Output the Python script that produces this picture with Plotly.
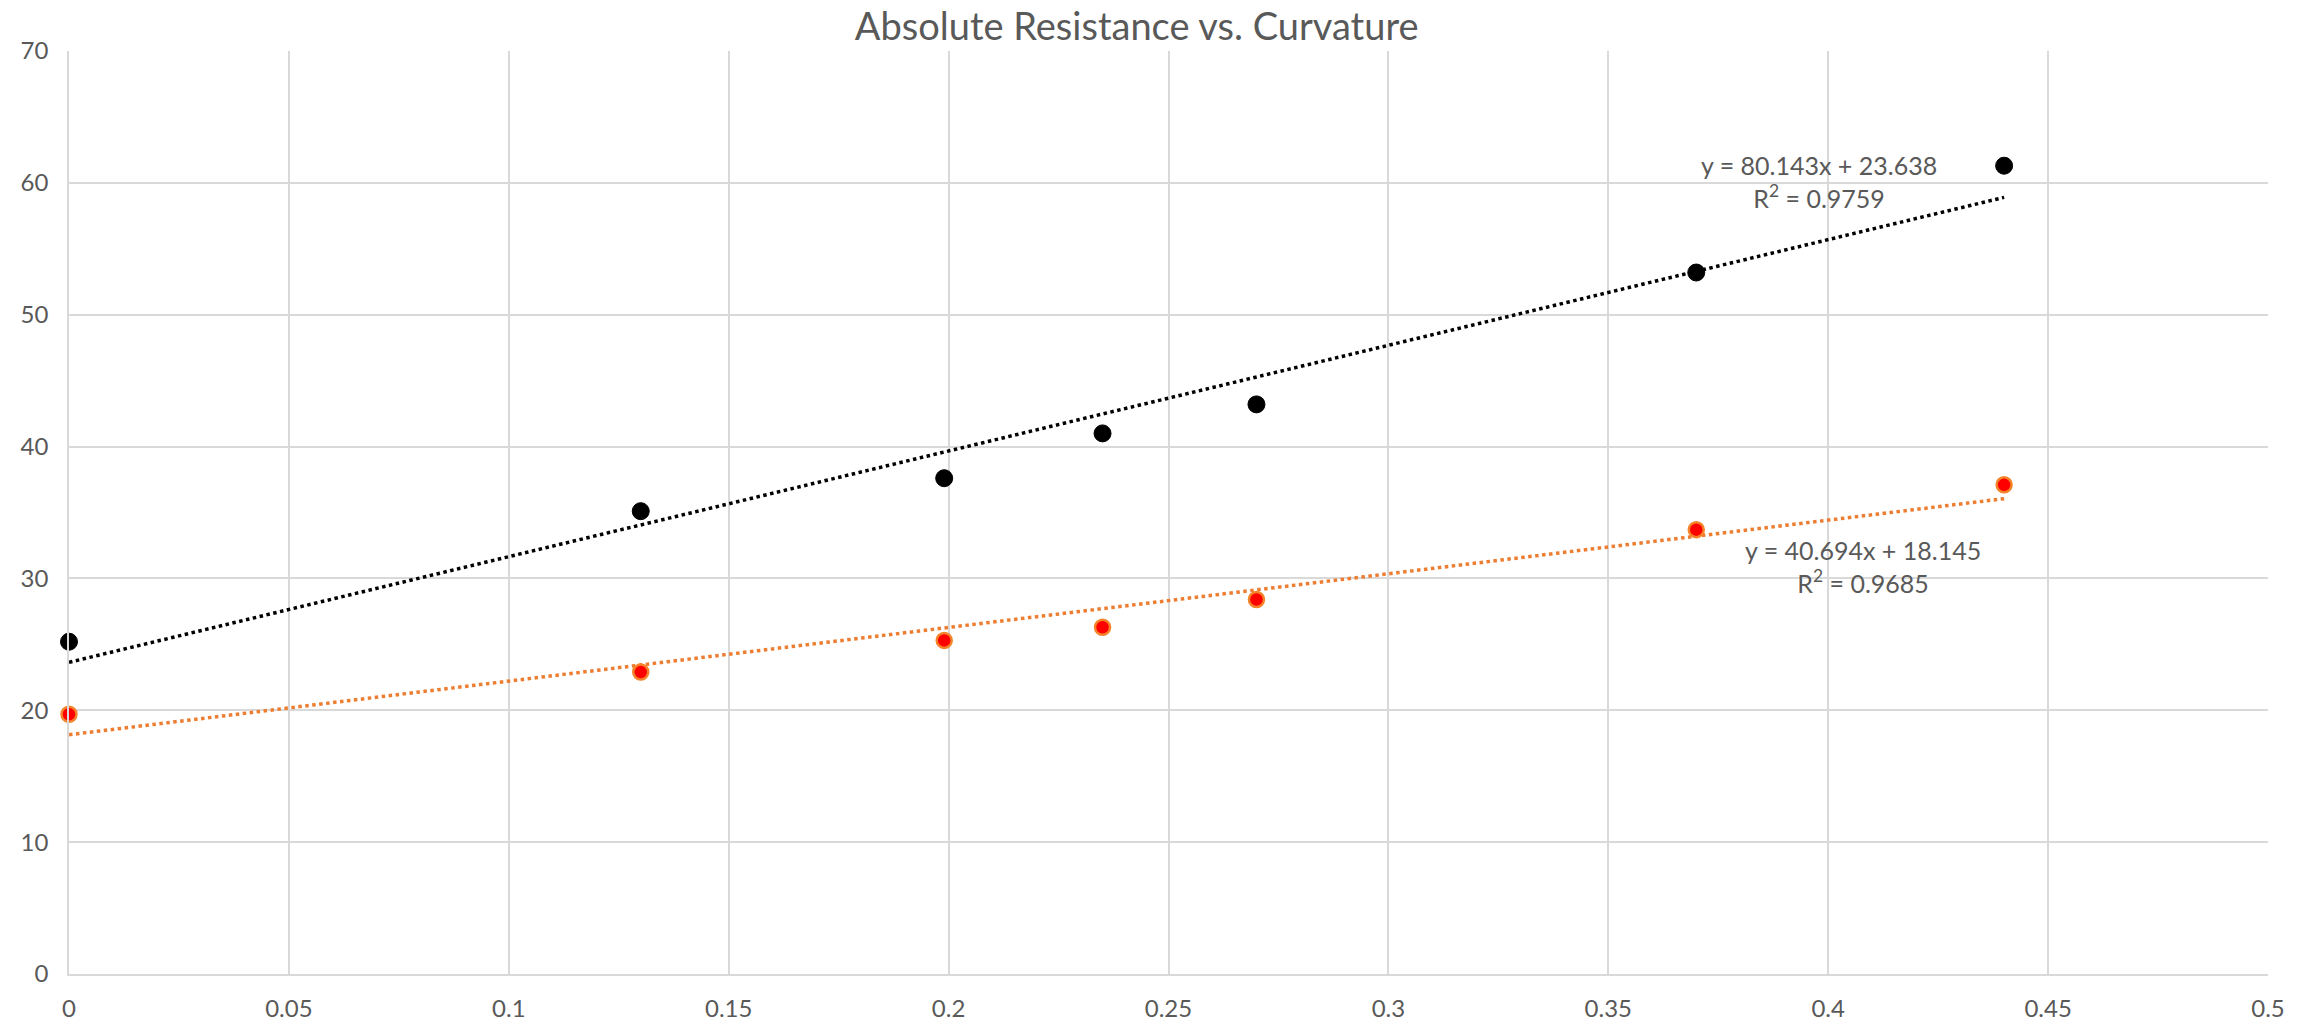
import plotly.graph_objects as go

curvature = [0.0, 0.13, 0.199, 0.235, 0.27, 0.37, 0.44]
resistance_a = [25.2, 35.1, 37.6, 41.0, 43.2, 53.2, 61.3]
resistance_b = [19.7, 22.9, 25.3, 26.3, 28.4, 33.7, 37.1]

fit_a = {"slope": 80.143, "intercept": 23.638, "r2": 0.9759}
fit_b = {"slope": 40.694, "intercept": 18.145, "r2": 0.9685}

x_ticks = [0, 0.05, 0.1, 0.15, 0.2, 0.25, 0.3, 0.35, 0.4, 0.45, 0.5]
y_ticks = [0, 10, 20, 30, 40, 50, 60, 70]

FONT = "Lato"
GRAY = "#595959"

fig = go.Figure()

x_line = [min(curvature), max(curvature)]
for fit, color in [(fit_a, "black"), (fit_b, "#ED7D31")]:
    fig.add_trace(go.Scatter(
        x=x_line,
        y=[fit["slope"] * v + fit["intercept"] for v in x_line],
        mode="lines",
        line=dict(color=color, width=3.5, dash="dot"),
        hoverinfo="skip", showlegend=False,
    ))

fig.add_trace(go.Scatter(
    x=curvature, y=resistance_a, mode="markers", cliponaxis=False,
    marker=dict(color="black", size=17, line=dict(color="black", width=1)),
    showlegend=False,
))
fig.add_trace(go.Scatter(
    x=curvature, y=resistance_b, mode="markers", cliponaxis=False,
    marker=dict(color="#FF0000", size=15, line=dict(color="#F4832A", width=2.5)),
    showlegend=False,
))

def eq_text(fit):
    return (f"y = {fit['slope']}x + {fit['intercept']}<br>"
            f"R<sup>2</sup> = {fit['r2']}")

fig.add_annotation(x=0.398, y=60.1, text=eq_text(fit_a), showarrow=False,
                   font=dict(family=FONT, size=25, color=GRAY), align="center")
fig.add_annotation(x=0.408, y=30.9, text=eq_text(fit_b), showarrow=False,
                   font=dict(family=FONT, size=25, color=GRAY), align="center")

fig.update_layout(
    width=2315, height=1034,
    paper_bgcolor="white", plot_bgcolor="white",
    margin=dict(l=69, r=47, t=51, b=53),
    title=dict(text="Absolute Resistance vs. Curvature", x=0.491, xanchor="center",
               y=1 - 27 / 1034, yanchor="middle",
               font=dict(family=FONT, size=38, color=GRAY)),
    xaxis=dict(range=[0, 0.5], tickvals=x_ticks, ticktext=[f"{v:g}" for v in x_ticks],
               showgrid=True, gridcolor="#D9D9D9", gridwidth=1.5,
               showline=True, linecolor="#D9D9D9", linewidth=1.5,
               zeroline=False, ticks="", ticklabelstandoff=12,
               tickfont=dict(family=FONT, size=24, color=GRAY)),
    yaxis=dict(range=[0, 70], tickvals=y_ticks,
               showgrid=True, gridcolor="#D9D9D9", gridwidth=1.5,
               showline=True, linecolor="#D9D9D9", linewidth=1.5,
               zeroline=False, ticks="", ticklabelstandoff=14,
               tickfont=dict(family=FONT, size=24, color=GRAY)),
)

fig.write_html("out.html")
